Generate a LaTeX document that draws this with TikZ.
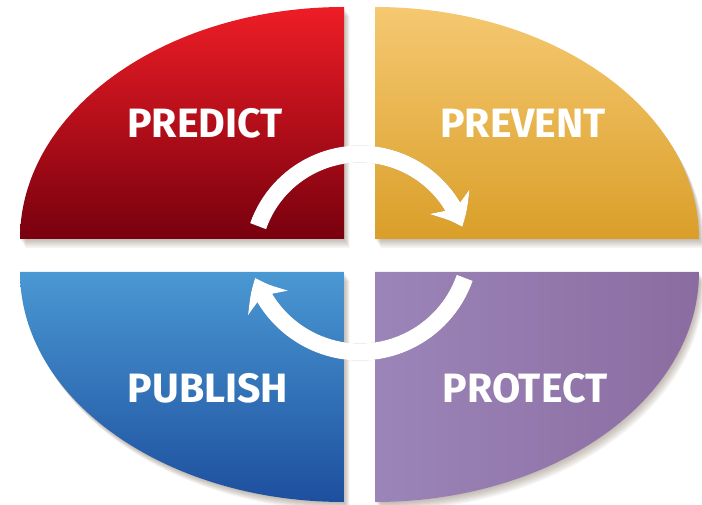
\documentclass[tikz,border=0pt]{standalone}
\usepackage{fontspec}
\setmainfont{Fira Sans}
\usetikzlibrary{arrows.meta,bending,calc}
\definecolor{PredictTop}{HTML}{EE1D26}
\definecolor{PredictMid}{HTML}{DE1B24}
\definecolor{PredictBot}{HTML}{78000E}
\definecolor{PreventTop}{HTML}{F5C871}
\definecolor{PreventMid}{HTML}{DDA431}
\definecolor{PreventBot}{HTML}{DA9F29}
\definecolor{PublishTop}{HTML}{4A98D3}
\definecolor{PublishMid}{HTML}{3474BB}
\definecolor{PublishBot}{HTML}{1D4F9E}
\definecolor{ProtectLeft}{HTML}{9B85B8}
\definecolor{ProtectRight}{HTML}{8B6CA1}
\definecolor{ShadowBrown}{HTML}{6B5744}

\tikzset{
  quadlabel/.style={text=white,font=\fontsize{41}{48}\selectfont\bfseries},
  cyclearrow/.style={draw=white,line width=17pt,
    -{Stealth[length=28pt,width=46pt,inset=9pt,bend]}},
  arrowshade/.style={draw=black,line width=17pt,opacity=0.1,
    -{Stealth[length=28pt,width=46pt,inset=9pt,bend]}},
}

\begin{document}
\begin{tikzpicture}[x=1pt,y=1pt]
    \useasboundingbox (0,0) rectangle (702,504);

    % soft shadows below the four quarters
    \foreach \s in {1,...,8}{
      \fill[ShadowBrown,opacity=0.06,shift={({0.7*\s},{-1.1*\s})}]
        (344,265) -- (20,265) arc[start angle=180,end angle=90,x radius=324,y radius=232] -- cycle;
      \fill[ShadowBrown,opacity=0.06,shift={({0.7*\s},{-1.1*\s})}]
        (375,265) -- (375,497) arc[start angle=90,end angle=0,x radius=324,y radius=232] -- cycle;
      \fill[ShadowBrown,opacity=0.06,shift={({0.7*\s},{-1.1*\s})}]
        (344,232) -- (20,232) arc[start angle=180,end angle=270,x radius=324,y radius=230] -- cycle;
      \fill[ShadowBrown,opacity=0.06,shift={({0.7*\s},{-1.1*\s})}]
        (375,232) -- (375,2) arc[start angle=270,end angle=360,x radius=324,y radius=230] -- cycle;
    }

    % the four quarters
    \shade[top color=PredictTop,middle color=PredictMid,bottom color=PredictBot]
      (344,265) -- (20,265) arc[start angle=180,end angle=90,x radius=324,y radius=232] -- cycle;
    \shade[top color=PreventTop,middle color=PreventMid,bottom color=PreventBot]
      (375,265) -- (375,497) arc[start angle=90,end angle=0,x radius=324,y radius=232] -- cycle;
    \shade[top color=PublishTop,middle color=PublishMid,bottom color=PublishBot]
      (344,232) -- (20,232) arc[start angle=180,end angle=270,x radius=324,y radius=230] -- cycle;
    \shade[left color=ProtectLeft,right color=ProtectRight]
      (375,232) -- (375,2) arc[start angle=270,end angle=360,x radius=324,y radius=230] -- cycle;

    % labels
    \node[quadlabel] (predict) at (205,381) {PREDICT};
    \node[quadlabel] (prevent) at (523,381) {PREVENT};
    \node[quadlabel] (publish) at (208,116) {PUBLISH};
    \node[quadlabel] (protect) at (525,116) {PROTECT};

    % cycle arrows
    \coordinate (topcentre) at (360,242);
    \coordinate (botcentre) at (360,263);
    \coordinate (toptail) at ($(topcentre)+(160.6:108)$);
    \coordinate (bottail) at ($(botcentre)+(-19.4:111)$);

    \foreach \s in {2,4,6}{
      \draw[arrowshade,shift={({0.6*\s},{-0.9*\s})}] (toptail) arc[start angle=160.6,end angle=19,radius=108];
      \draw[arrowshade,shift={({0.6*\s},{-0.9*\s})}] (bottail) arc[start angle=-19.4,end angle=-160.6,radius=111];
    }
    \draw[cyclearrow] (toptail) arc[start angle=160.6,end angle=19,radius=108];
    \draw[cyclearrow] (bottail) arc[start angle=-19.4,end angle=-160.6,radius=111];
\end{tikzpicture}
\end{document}
